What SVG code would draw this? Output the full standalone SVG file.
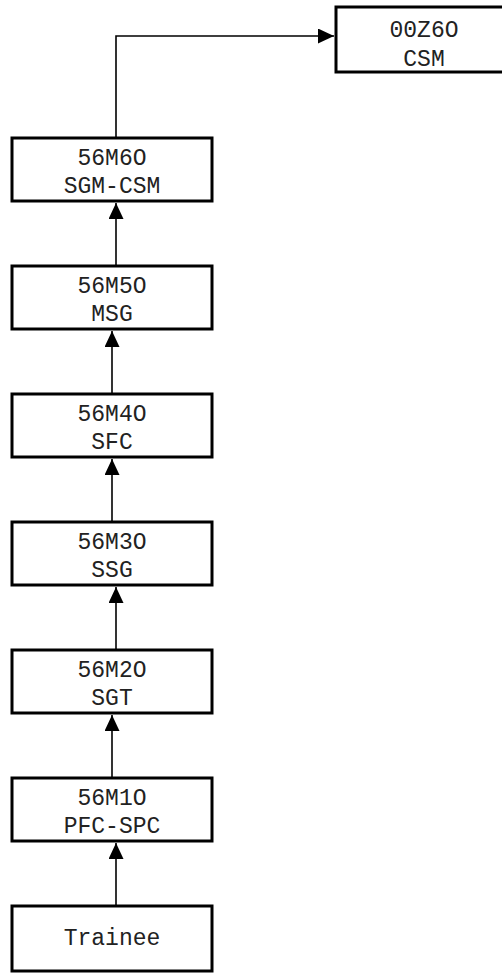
<svg xmlns="http://www.w3.org/2000/svg" width="502" height="973" viewBox="0 0 502 973">
<style>
.box{fill:#fff;stroke:#000;stroke-width:3}
.t{font-family:"Liberation Mono","Courier New",monospace;font-size:23px;fill:#222;text-anchor:middle}
.c{fill:none;stroke:#000;stroke-width:1.6}
</style>
<defs>
<marker id="ah" viewBox="0 0 16 15" refX="16" refY="7.5" markerWidth="16" markerHeight="15" markerUnits="userSpaceOnUse" orient="auto">
<path d="M0,0 L16,7.5 L0,15 Z" fill="#000"/>
</marker>
</defs>
<g id="connectors">
<path class="c" d="M116,906 V843" marker-end="url(#ah)"/>
<path class="c" d="M112,778 V715" marker-end="url(#ah)"/>
<path class="c" d="M116,650 V587" marker-end="url(#ah)"/>
<path class="c" d="M112,522 V459" marker-end="url(#ah)"/>
<path class="c" d="M112,394 V331" marker-end="url(#ah)"/>
<path class="c" d="M116,266 V203" marker-end="url(#ah)"/>
<path class="c" d="M116,138 V36 H334" marker-end="url(#ah)"/>
</g>
<g id="n-csm">
<rect class="box" x="336" y="7" width="178" height="65"/>
<text class="t" x="424" y="37">00Z6O</text>
<text class="t" x="424" y="66">CSM</text>
</g>
<g id="n-sgm">
<rect class="box" x="12" y="138" width="200" height="63"/>
<text class="t" x="112" y="165">56M6O</text>
<text class="t" x="112" y="193">SGM-CSM</text>
</g>
<g id="n-msg">
<rect class="box" x="12" y="266" width="200" height="63"/>
<text class="t" x="112" y="293">56M5O</text>
<text class="t" x="112" y="321">MSG</text>
</g>
<g id="n-sfc">
<rect class="box" x="12" y="394" width="200" height="63"/>
<text class="t" x="112" y="421">56M4O</text>
<text class="t" x="112" y="449">SFC</text>
</g>
<g id="n-ssg">
<rect class="box" x="12" y="522" width="200" height="63"/>
<text class="t" x="112" y="549">56M3O</text>
<text class="t" x="112" y="577">SSG</text>
</g>
<g id="n-sgt">
<rect class="box" x="12" y="650" width="200" height="63"/>
<text class="t" x="112" y="677">56M2O</text>
<text class="t" x="112" y="705">SGT</text>
</g>
<g id="n-pfc">
<rect class="box" x="12" y="778" width="200" height="63"/>
<text class="t" x="112" y="805">56M1O</text>
<text class="t" x="112" y="833">PFC-SPC</text>
</g>
<g id="n-trainee">
<rect class="box" x="12" y="906" width="200" height="65"/>
<text class="t" x="112" y="945">Trainee</text>
</g>
</svg>
